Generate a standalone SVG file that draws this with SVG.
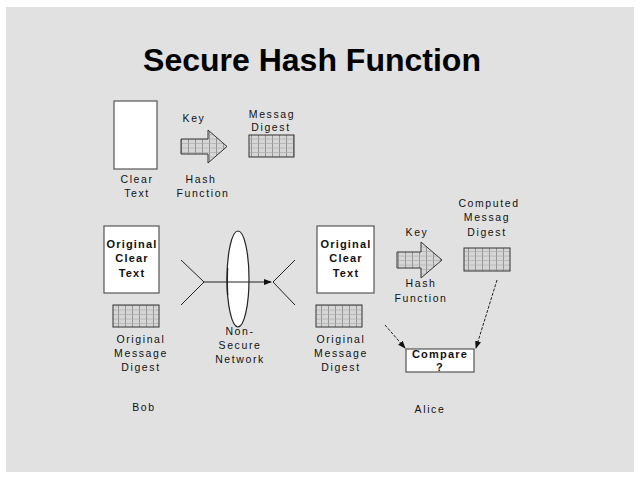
<svg xmlns="http://www.w3.org/2000/svg" width="640" height="480" viewBox="0 0 640 480">
<style>
.t{font-family:"Liberation Sans",Arial,sans-serif;font-size:10.5px;letter-spacing:1.6px;fill:#111;text-anchor:middle}
.b{font-family:"Liberation Sans",Arial,sans-serif;font-size:11px;font-weight:bold;letter-spacing:1.2px;fill:#111;text-anchor:middle}
.box{fill:#fff;stroke:#555;stroke-width:1.2}
.grid{fill:url(#hatch);stroke:#333;stroke-width:1}
.ln{stroke:#222;stroke-width:1;fill:none}
.dash{stroke:#222;stroke-width:1;fill:none;stroke-dasharray:3 1.5}
</style>
<defs>
<pattern id="hatch" patternUnits="userSpaceOnUse" width="7" height="4.5">
<rect width="7" height="4.5" fill="#d6d6d6"/>
<path d="M0 4.5H7M6.5 0V4" stroke="#888" stroke-width="0.8"/>
</pattern>
<marker id="ah" markerWidth="8" markerHeight="8" refX="7" refY="4" orient="auto" markerUnits="userSpaceOnUse">
<path d="M0 1L8 4L0 7Z" fill="#111"/>
</marker>
</defs>
<rect width="640" height="480" fill="#fff"/>
<rect x="6" y="7" width="628" height="465" fill="#e1e1e1"/>
<text x="312" y="71" font-family="Liberation Sans,Arial,sans-serif" font-size="32" font-weight="bold" text-anchor="middle" fill="#000">Secure Hash Function</text>

<g id="clear-text">
<rect class="box" x="114" y="101" width="43" height="68"/>
<text class="t" x="137" y="183">Clear</text>
<text class="t" x="137" y="197">Text</text>
</g>
<g id="hash-function-1">
<text class="t" x="194" y="122">Key</text>
<path class="grid" d="M181 139H208V130L227 146.5L208 163V154H181Z"/>
<text class="t" x="201" y="183">Hash</text>
<text class="t" x="203" y="197">Function</text>
</g>
<g id="message-digest-1">
<text class="t" x="272" y="118">Messag</text>
<text class="t" x="271" y="131">Digest</text>
<rect class="grid" x="249" y="135" width="45" height="22"/>
</g>

<g id="bob-clear-text">
<rect class="box" x="104" y="226" width="55" height="67"/>
<text class="b" x="132" y="248">Original</text>
<text class="b" x="132" y="262">Clear</text>
<text class="b" x="132" y="277">Text</text>
</g>
<g id="bob-digest">
<rect class="grid" x="113" y="305" width="46" height="22"/>
<text class="t" x="141" y="343">Original</text>
<text class="t" x="141" y="357">Message</text>
<text class="t" x="141" y="371">Digest</text>
</g>
<g id="network">
<ellipse cx="238" cy="279" rx="11" ry="48" fill="#fff" stroke="#222" stroke-width="1.2"/>
<path d="M227.6 268Q227 279 227.6 295" stroke="#222" stroke-width="1.4" fill="none"/>
<text class="t" x="240" y="335">Non-</text>
<text class="t" x="240" y="349">Secure</text>
<text class="t" x="240" y="363">Network</text>
</g>
<text class="t" x="144" y="411">Bob</text>

<g id="alice-clear-text">
<rect class="box" x="317" y="226" width="57" height="67"/>
<text class="b" x="346" y="248">Original</text>
<text class="b" x="346" y="262">Clear</text>
<text class="b" x="346" y="277">Text</text>
</g>
<g id="alice-digest">
<rect class="grid" x="316" y="305" width="46" height="22"/>
<text class="t" x="341" y="343">Original</text>
<text class="t" x="341" y="357">Message</text>
<text class="t" x="341" y="371">Digest</text>
</g>
<g id="hash-function-2">
<text class="t" x="417" y="236">Key</text>
<path class="grid" d="M397 252H421V242L442 260L421 278V268H397Z"/>
<text class="t" x="421" y="287">Hash</text>
<text class="t" x="421" y="302">Function</text>
</g>
<g id="computed-digest">
<text class="t" x="489" y="207">Computed</text>
<text class="t" x="487" y="221">Messag</text>
<text class="t" x="487" y="236">Digest</text>
<rect class="grid" x="464" y="248" width="46" height="23"/>
</g>
<g id="compare">
<rect class="box" x="406" y="349" width="68" height="23" stroke="#222"/>
<text class="b" x="440" y="358">Compare</text>
<text class="b" x="440" y="371">?</text>
</g>
<text class="t" x="430" y="413">Alice</text>

<g id="connectors">
<path class="ln" d="M181 260L204 282L181 305"/>
<path class="ln" d="M204 282H271" marker-end="url(#ah)"/>
<path class="ln" d="M295 260L273 282L295 305"/>
<path class="dash" d="M385 325L405 348" marker-end="url(#ah)"/>
<path class="dash" d="M497 280L476 348" marker-end="url(#ah)"/>
</g>
</svg>
